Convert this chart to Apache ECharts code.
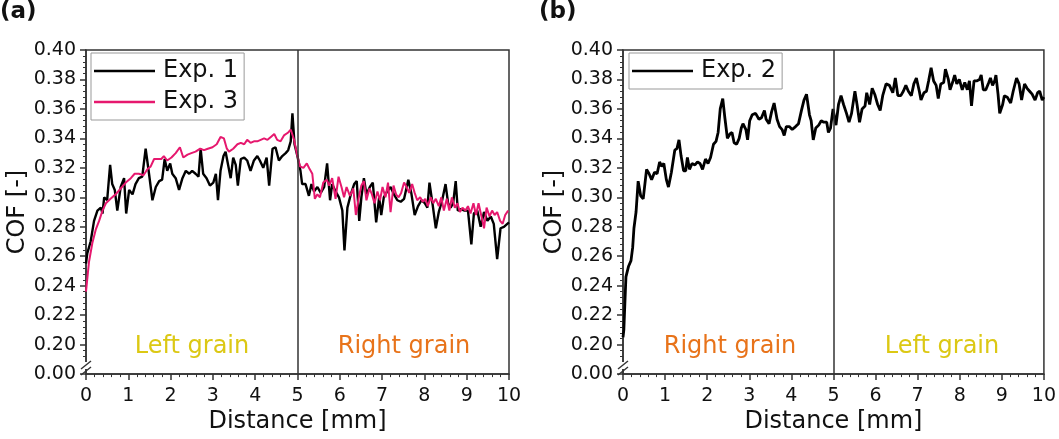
<!DOCTYPE html>
<html>
<head>
<meta charset="utf-8">
<script src="https://cdn.jsdelivr.net/npm/echarts@6/dist/echarts.min.js"></script>
<style>
    html, body { margin: 0; padding: 0; background: #fff; }
    #chart { width: 1059px; height: 439px; }
</style>
</head>
<body>
<div id="chart"></div>
<script>
// distance [mm], COF [-]
const exp1 = [
    [0, 0.255], [0.03, 0.262], [0.11, 0.27], [0.19, 0.284], [0.27, 0.291], [0.35, 0.293], [0.39, 0.289],
    [0.43, 0.3], [0.5, 0.298], [0.57, 0.322], [0.62, 0.309], [0.68, 0.305], [0.74, 0.291], [0.82, 0.307],
    [0.9, 0.313], [0.95, 0.289], [1.02, 0.305], [1.1, 0.302], [1.17, 0.309], [1.25, 0.313], [1.33, 0.314],
    [1.41, 0.333], [1.49, 0.316], [1.57, 0.298], [1.65, 0.307], [1.73, 0.311], [1.8, 0.312], [1.86, 0.326],
    [1.92, 0.318], [1.99, 0.323], [2.04, 0.316], [2.12, 0.313], [2.2, 0.305], [2.28, 0.313], [2.36, 0.318],
    [2.44, 0.316], [2.51, 0.318], [2.59, 0.316], [2.66, 0.314], [2.71, 0.333], [2.77, 0.316], [2.85, 0.313],
    [2.93, 0.308], [3.01, 0.31], [3.07, 0.316], [3.12, 0.298], [3.18, 0.318], [3.25, 0.328], [3.3, 0.331],
    [3.36, 0.322], [3.42, 0.313], [3.48, 0.327], [3.54, 0.322], [3.59, 0.308], [3.66, 0.326], [3.74, 0.327],
    [3.81, 0.325], [3.89, 0.318], [3.97, 0.325], [4.05, 0.328], [4.11, 0.325], [4.19, 0.32], [4.27, 0.327],
    [4.33, 0.308], [4.41, 0.333], [4.48, 0.334], [4.56, 0.325], [4.64, 0.328], [4.72, 0.33], [4.78, 0.332],
    [4.84, 0.338], [4.88, 0.357], [4.93, 0.336], [4.99, 0.329], [5.07, 0.318], [5.11, 0.309], [5.19, 0.309],
    [5.27, 0.301], [5.33, 0.309], [5.39, 0.304], [5.47, 0.307], [5.55, 0.303], [5.63, 0.307], [5.7, 0.323],
    [5.77, 0.298], [5.82, 0.309], [5.9, 0.304], [5.98, 0.3], [6.06, 0.291], [6.11, 0.264], [6.18, 0.293],
    [6.26, 0.302], [6.34, 0.309], [6.4, 0.311], [6.46, 0.284], [6.51, 0.3], [6.57, 0.313], [6.63, 0.302],
    [6.71, 0.307], [6.78, 0.31], [6.86, 0.283], [6.93, 0.3], [6.98, 0.288], [7.04, 0.3], [7.12, 0.304],
    [7.2, 0.307], [7.28, 0.302], [7.36, 0.298], [7.44, 0.297], [7.52, 0.299], [7.62, 0.312], [7.69, 0.303],
    [7.77, 0.288], [7.85, 0.294], [7.93, 0.298], [8.01, 0.296], [8.07, 0.293], [8.12, 0.31], [8.19, 0.296],
    [8.27, 0.279], [8.34, 0.29], [8.42, 0.298], [8.5, 0.309], [8.56, 0.296], [8.62, 0.293], [8.68, 0.296],
    [8.74, 0.311], [8.79, 0.291], [8.87, 0.292], [8.95, 0.291], [9.03, 0.291], [9.11, 0.268], [9.17, 0.289],
    [9.25, 0.291], [9.33, 0.28], [9.41, 0.29], [9.49, 0.284], [9.57, 0.287], [9.64, 0.282], [9.72, 0.258],
    [9.8, 0.279], [9.88, 0.28], [10, 0.283]
];

const exp3 = [
    [0, 0.236], [0.07, 0.256], [0.15, 0.269], [0.23, 0.278], [0.31, 0.284], [0.39, 0.291], [0.47, 0.296],
    [0.58, 0.299], [0.7, 0.302], [0.82, 0.306], [0.94, 0.31], [1.06, 0.313], [1.15, 0.316], [1.25, 0.316],
    [1.36, 0.315], [1.45, 0.319], [1.53, 0.321], [1.61, 0.326], [1.69, 0.326], [1.78, 0.326], [1.84, 0.328],
    [1.92, 0.325], [2.02, 0.327], [2.12, 0.33], [2.22, 0.334], [2.3, 0.327], [2.4, 0.329], [2.49, 0.33],
    [2.59, 0.331], [2.7, 0.333], [2.79, 0.332], [2.88, 0.333], [2.99, 0.334], [3.09, 0.336], [3.18, 0.341],
    [3.26, 0.34], [3.33, 0.333], [3.38, 0.331], [3.48, 0.333], [3.58, 0.336], [3.66, 0.337], [3.74, 0.336],
    [3.81, 0.339], [3.89, 0.337], [3.97, 0.338], [4.05, 0.338], [4.13, 0.339], [4.21, 0.34], [4.29, 0.339],
    [4.37, 0.341], [4.45, 0.343], [4.52, 0.339], [4.6, 0.338], [4.68, 0.342], [4.78, 0.344], [4.84, 0.346],
    [4.92, 0.339], [4.99, 0.329], [5.06, 0.321], [5.14, 0.32], [5.22, 0.323], [5.29, 0.319], [5.35, 0.316],
    [5.41, 0.299], [5.47, 0.302], [5.53, 0.3], [5.61, 0.31], [5.69, 0.312], [5.75, 0.308], [5.82, 0.313],
    [5.9, 0.299], [5.97, 0.314], [6.04, 0.307], [6.1, 0.3], [6.16, 0.307], [6.24, 0.301], [6.32, 0.306],
    [6.38, 0.288], [6.45, 0.3], [6.51, 0.308], [6.57, 0.311], [6.63, 0.298], [6.7, 0.306], [6.76, 0.302],
    [6.82, 0.296], [6.89, 0.304], [6.95, 0.298], [7.01, 0.307], [7.08, 0.3], [7.14, 0.31], [7.2, 0.29],
    [7.27, 0.308], [7.33, 0.302], [7.39, 0.3], [7.45, 0.303], [7.52, 0.31], [7.58, 0.307], [7.64, 0.303],
    [7.71, 0.309], [7.77, 0.303], [7.83, 0.298], [7.9, 0.3], [7.96, 0.297], [8.02, 0.299], [8.08, 0.294],
    [8.15, 0.3], [8.21, 0.296], [8.27, 0.299], [8.34, 0.294], [8.4, 0.3], [8.46, 0.291], [8.53, 0.299],
    [8.59, 0.291], [8.65, 0.3], [8.72, 0.293], [8.78, 0.296], [8.84, 0.29], [8.9, 0.293], [8.97, 0.291],
    [9.03, 0.294], [9.09, 0.289], [9.16, 0.296], [9.22, 0.288], [9.28, 0.296], [9.35, 0.287], [9.41, 0.279],
    [9.47, 0.293], [9.54, 0.287], [9.6, 0.291], [9.66, 0.288], [9.72, 0.29], [9.79, 0.284], [9.85, 0.282],
    [9.91, 0.288], [9.98, 0.291]
];

const exp2 = [
    [0, 0.205], [0.02, 0.21], [0.05, 0.232], [0.07, 0.246], [0.13, 0.253], [0.19, 0.257], [0.23, 0.266],
    [0.26, 0.279], [0.31, 0.29], [0.36, 0.311], [0.42, 0.301], [0.48, 0.299], [0.56, 0.319], [0.62, 0.316],
    [0.68, 0.312], [0.75, 0.317], [0.81, 0.316], [0.87, 0.324], [0.92, 0.321], [0.97, 0.323], [1.03, 0.312],
    [1.08, 0.307], [1.15, 0.317], [1.23, 0.332], [1.28, 0.333], [1.33, 0.339], [1.38, 0.328], [1.44, 0.318],
    [1.49, 0.318], [1.53, 0.327], [1.58, 0.319], [1.64, 0.323], [1.71, 0.322], [1.77, 0.324], [1.83, 0.323],
    [1.89, 0.319], [1.96, 0.326], [2.02, 0.323], [2.08, 0.327], [2.15, 0.336], [2.21, 0.338], [2.26, 0.344],
    [2.31, 0.36], [2.37, 0.367], [2.42, 0.354], [2.48, 0.34], [2.54, 0.343], [2.59, 0.344], [2.64, 0.337],
    [2.7, 0.336], [2.76, 0.34], [2.81, 0.347], [2.85, 0.35], [2.92, 0.346], [2.96, 0.339], [3.01, 0.352],
    [3.07, 0.356], [3.15, 0.357], [3.23, 0.353], [3.29, 0.354], [3.36, 0.359], [3.4, 0.353], [3.47, 0.35],
    [3.53, 0.358], [3.59, 0.364], [3.66, 0.353], [3.72, 0.348], [3.78, 0.346], [3.83, 0.342], [3.88, 0.348],
    [3.95, 0.348], [4.02, 0.346], [4.1, 0.348], [4.17, 0.35], [4.24, 0.359], [4.3, 0.366], [4.36, 0.37],
    [4.43, 0.356], [4.47, 0.352], [4.52, 0.339], [4.58, 0.347], [4.65, 0.349], [4.71, 0.352], [4.77, 0.351],
    [4.84, 0.351], [4.88, 0.344], [4.93, 0.347], [4.99, 0.36], [5.06, 0.349], [5.12, 0.363], [5.18, 0.369],
    [5.24, 0.363], [5.31, 0.357], [5.37, 0.351], [5.43, 0.357], [5.51, 0.372], [5.56, 0.363], [5.62, 0.351],
    [5.68, 0.36], [5.75, 0.362], [5.79, 0.371], [5.86, 0.363], [5.92, 0.374], [5.98, 0.37], [6.05, 0.363],
    [6.11, 0.359], [6.17, 0.369], [6.25, 0.377], [6.33, 0.376], [6.41, 0.371], [6.47, 0.381], [6.53, 0.369],
    [6.6, 0.369], [6.66, 0.372], [6.72, 0.376], [6.78, 0.372], [6.85, 0.369], [6.91, 0.377], [6.97, 0.381],
    [7.04, 0.372], [7.08, 0.366], [7.15, 0.371], [7.21, 0.372], [7.26, 0.379], [7.32, 0.388], [7.38, 0.379],
    [7.44, 0.376], [7.49, 0.367], [7.55, 0.377], [7.62, 0.378], [7.66, 0.387], [7.73, 0.38], [7.77, 0.373],
    [7.84, 0.379], [7.88, 0.383], [7.93, 0.377], [7.99, 0.38], [8.06, 0.373], [8.12, 0.378], [8.18, 0.373],
    [8.23, 0.379], [8.28, 0.362], [8.34, 0.379], [8.4, 0.379], [8.47, 0.38], [8.51, 0.383], [8.56, 0.373],
    [8.62, 0.373], [8.69, 0.378], [8.73, 0.381], [8.78, 0.376], [8.83, 0.379], [8.86, 0.383], [8.91, 0.37],
    [8.95, 0.357], [9.02, 0.363], [9.06, 0.369], [9.13, 0.368], [9.21, 0.364], [9.27, 0.372], [9.35, 0.381],
    [9.41, 0.377], [9.47, 0.366], [9.54, 0.377], [9.6, 0.374], [9.66, 0.372], [9.72, 0.37], [9.79, 0.366],
    [9.85, 0.371], [9.9, 0.372], [9.96, 0.366], [10, 0.368]
];

const xTicks = { min: 0, max: 10, interval: 1 };
const yTicks = { min: 0.18, max: 0.40, interval: 0.02 };
const grainLine = 5;

const fontFamily = "DejaVu Sans, Liberation Sans, sans-serif";
const axisColor = "#333";
const textColor = "#111";
const yellow = "#dcc814";
const orange = "#e8731a";

const chart = echarts.init(document.getElementById("chart"));

function xAxis(gridIndex) {
    return {
        type: "value",
        gridIndex,
        min: xTicks.min,
        max: xTicks.max,
        interval: xTicks.interval,
        name: "Distance [mm]",
        nameLocation: "middle",
        nameGap: 31,
        nameTextStyle: { fontSize: 24, color: textColor, fontFamily },
        axisLine: { show: true, lineStyle: { color: axisColor, width: 1.5 } },
        axisTick: { show: true, inside: false, length: 6, lineStyle: { color: axisColor, width: 1.5 } },
        minorTick: { show: true, splitNumber: 5, length: 3, lineStyle: { color: axisColor, width: 1 } },
        axisLabel: { fontSize: 19, color: textColor, margin: 12, fontFamily },
        splitLine: { show: false }
    };
}

function yAxis(gridIndex) {
    return {
        type: "value",
        gridIndex,
        min: yTicks.min,
        max: yTicks.max,
        interval: yTicks.interval,
        name: "COF [-]",
        nameLocation: "middle",
        nameGap: 51,
        nameTextStyle: { fontSize: 24, color: textColor, fontFamily },
        axisLine: { show: true, lineStyle: { color: axisColor, width: 1.5 } },
        axisTick: { show: true, inside: false, length: 6, lineStyle: { color: axisColor, width: 1.5 } },
        minorTick: { show: true, splitNumber: 5, length: 3, lineStyle: { color: axisColor, width: 1 } },
        axisLabel: {
            fontSize: 19,
            color: textColor,
            margin: 10,
            fontFamily,
            formatter: value => (value < 0.19 ? "0.00" : value.toFixed(2))
        },
        splitLine: { show: false }
    };
}

function grainMarker() {
    return {
        silent: true,
        symbol: ["none", "none"],
        label: { show: false },
        lineStyle: { color: axisColor, width: 1.5, type: "solid" },
        data: [{ xAxis: grainLine }]
    };
}

function lineSeries(name, data, color, width, axisIndex, withMarker) {
    return {
        name,
        type: "line",
        xAxisIndex: axisIndex,
        yAxisIndex: axisIndex,
        data,
        symbol: "none",
        showSymbol: false,
        animation: false,
        lineStyle: { color, width },
        itemStyle: { color },
        markLine: withMarker ? grainMarker() : undefined
    };
}

function legend(left, names) {
    return {
        orient: "vertical",
        left,
        top: 53,
        data: names,
        icon: "rect",
        itemWidth: 61,
        itemHeight: 2.5,
        itemGap: 7,
        padding: [6, 6, 6, 3],
        borderColor: "#999",
        borderWidth: 1,
        backgroundColor: "#fff",
        textStyle: { fontSize: 24, color: textColor, fontFamily, padding: [0, 0, 0, 3] }
    };
}

function breakMarks(x) {
    return [
        { type: "rect", shape: { x: x - 3, y: 362, width: 6, height: 7 }, style: { fill: "#fff" }, z: 100 },
        { type: "line", shape: { x1: x - 5, y1: 375, x2: x + 5, y2: 367 }, style: { stroke: axisColor, lineWidth: 1.5 }, z: 101 },
        { type: "line", shape: { x1: x - 5, y1: 369, x2: x + 5, y2: 361 }, style: { stroke: axisColor, lineWidth: 1.5 }, z: 101 }
    ];
}

function grainText(text, x, color) {
    return {
        type: "text",
        x,
        y: 347,
        z: 50,
        style: {
            text,
            fill: color,
            font: `24px ${fontFamily}`,
            textAlign: "center",
            textVerticalAlign: "middle"
        }
    };
}

chart.setOption({
    animation: false,
    title: [
        { text: "(a)", left: 0, top: 1, padding: 0, textStyle: { fontSize: 23, fontWeight: "bold", color: textColor, fontFamily } },
        { text: "(b)", left: 539, top: 1, padding: 0, textStyle: { fontSize: 23, fontWeight: "bold", color: textColor, fontFamily } }
    ],
    grid: [
        { left: 86, right: 550, top: 50, bottom: 59, show: true, borderColor: axisColor, borderWidth: 1.5 },
        { left: 623, right: 11, top: 50, bottom: 59, show: true, borderColor: axisColor, borderWidth: 1.5 }
    ],
    legend: [legend(91, ["Exp. 1", "Exp. 3"]), legend(629, ["Exp. 2"])],
    xAxis: [xAxis(0), xAxis(1)],
    yAxis: [yAxis(0), yAxis(1)],
    series: [
        lineSeries("Exp. 1", exp1, "#000", 2.4, 0, true),
        lineSeries("Exp. 3", exp3, "#e6186e", 2, 0, false),
        lineSeries("Exp. 2", exp2, "#000", 2.8, 1, true)
    ],
    graphic: [
        ...breakMarks(86),
        ...breakMarks(623),
        grainText("Left grain", 192, yellow),
        grainText("Right grain", 404, orange),
        grainText("Right grain", 730, orange),
        grainText("Left grain", 942, yellow)
    ]
});
</script>
</body>
</html>
